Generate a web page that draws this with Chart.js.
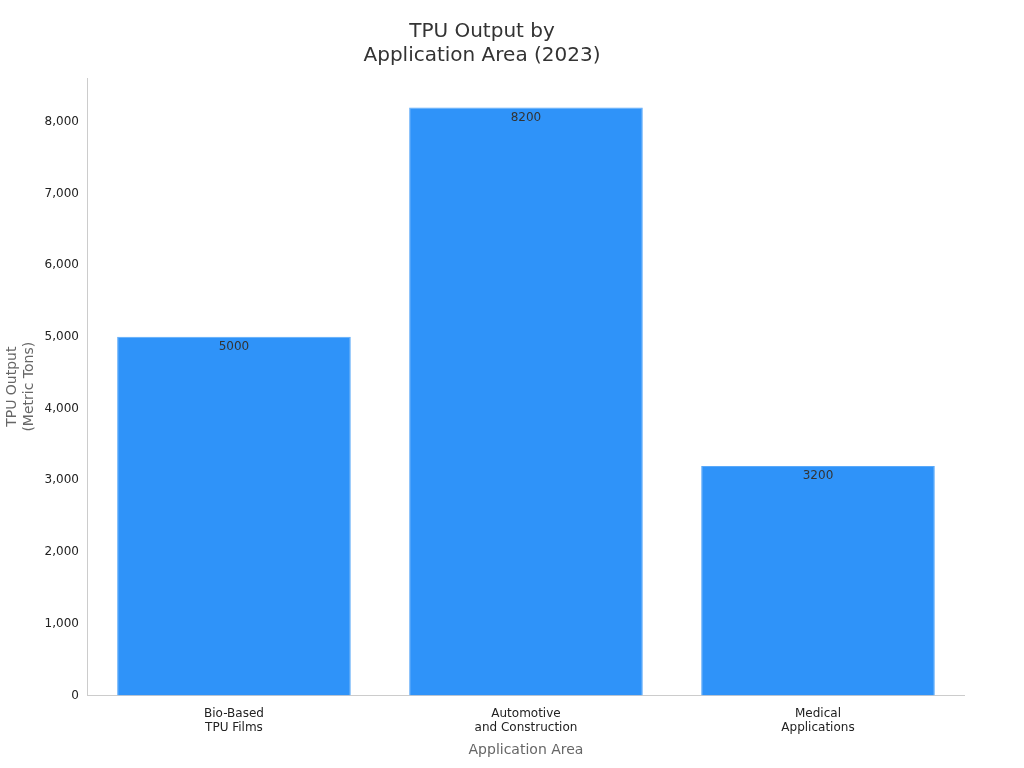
<!DOCTYPE html>
<html><head><meta charset="utf-8">
<script src="https://cdn.jsdelivr.net/npm/chart.js@4"></script>
<style>html,body{margin:0;background:#fff}#w{width:1024px;height:768px}</style>
</head><body><div id="w"><canvas id="c"></canvas></div>
<script>
const categories = [["Bio-Based","TPU Films"],["Automotive","and Construction"],["Medical","Applications"]];
const values = [5000, 8200, 3200];
const yTicks = [0,1000,2000,3000,4000,5000,6000,7000,8000];
Chart.defaults.font.family = "DejaVu Sans";
const labelPlugin = {id:'lbl', afterDatasetsDraw(ch){
  const ctx = ch.ctx, meta = ch.getDatasetMeta(0);
  ctx.save(); ctx.font = "12px DejaVu Sans"; ctx.fillStyle="#333"; ctx.textAlign="center"; ctx.textBaseline="top";
  meta.data.forEach((b,i)=>ctx.fillText(String(values[i]), b.x, b.y+4));
  ctx.restore();
}};
new Chart(document.getElementById('c'), {
  type:'bar',
  data:{labels:categories, datasets:[{data:values, backgroundColor:'#2f93f9', borderColor:'#5aa9f9', borderWidth:1, barPercentage:0.8, categoryPercentage:1}]},
  options:{responsive:true, maintainAspectRatio:false, animation:false,
    layout:{padding:{top:10,right:60,left:0,bottom:5}},
    plugins:{legend:{display:false}, tooltip:{enabled:false},
      title:{display:true, text:["TPU Output by","Application Area (2023)"], color:'#333', font:{size:20, weight:'normal'}, padding:{top:10,bottom:10}}},
    scales:{
      x:{grid:{display:false, drawTicks:true}, border:{color:'#ccc'}, ticks:{color:'#222', font:{size:12}},
         title:{display:true, text:'Application Area', color:'#666', font:{size:14}}},
      y:{min:0, max:8610, afterBuildTicks:s=>{s.ticks=yTicks.map(v=>({value:v}))},
         grid:{display:false, drawTicks:true, tickLength:6}, border:{color:'#ccc'},
         ticks:{color:'#222', font:{size:12}},
         title:{display:true, text:['TPU Output','(Metric Tons)'], color:'#666', font:{size:14}}}
    }},
  plugins:[labelPlugin]
});
</script></body></html>
